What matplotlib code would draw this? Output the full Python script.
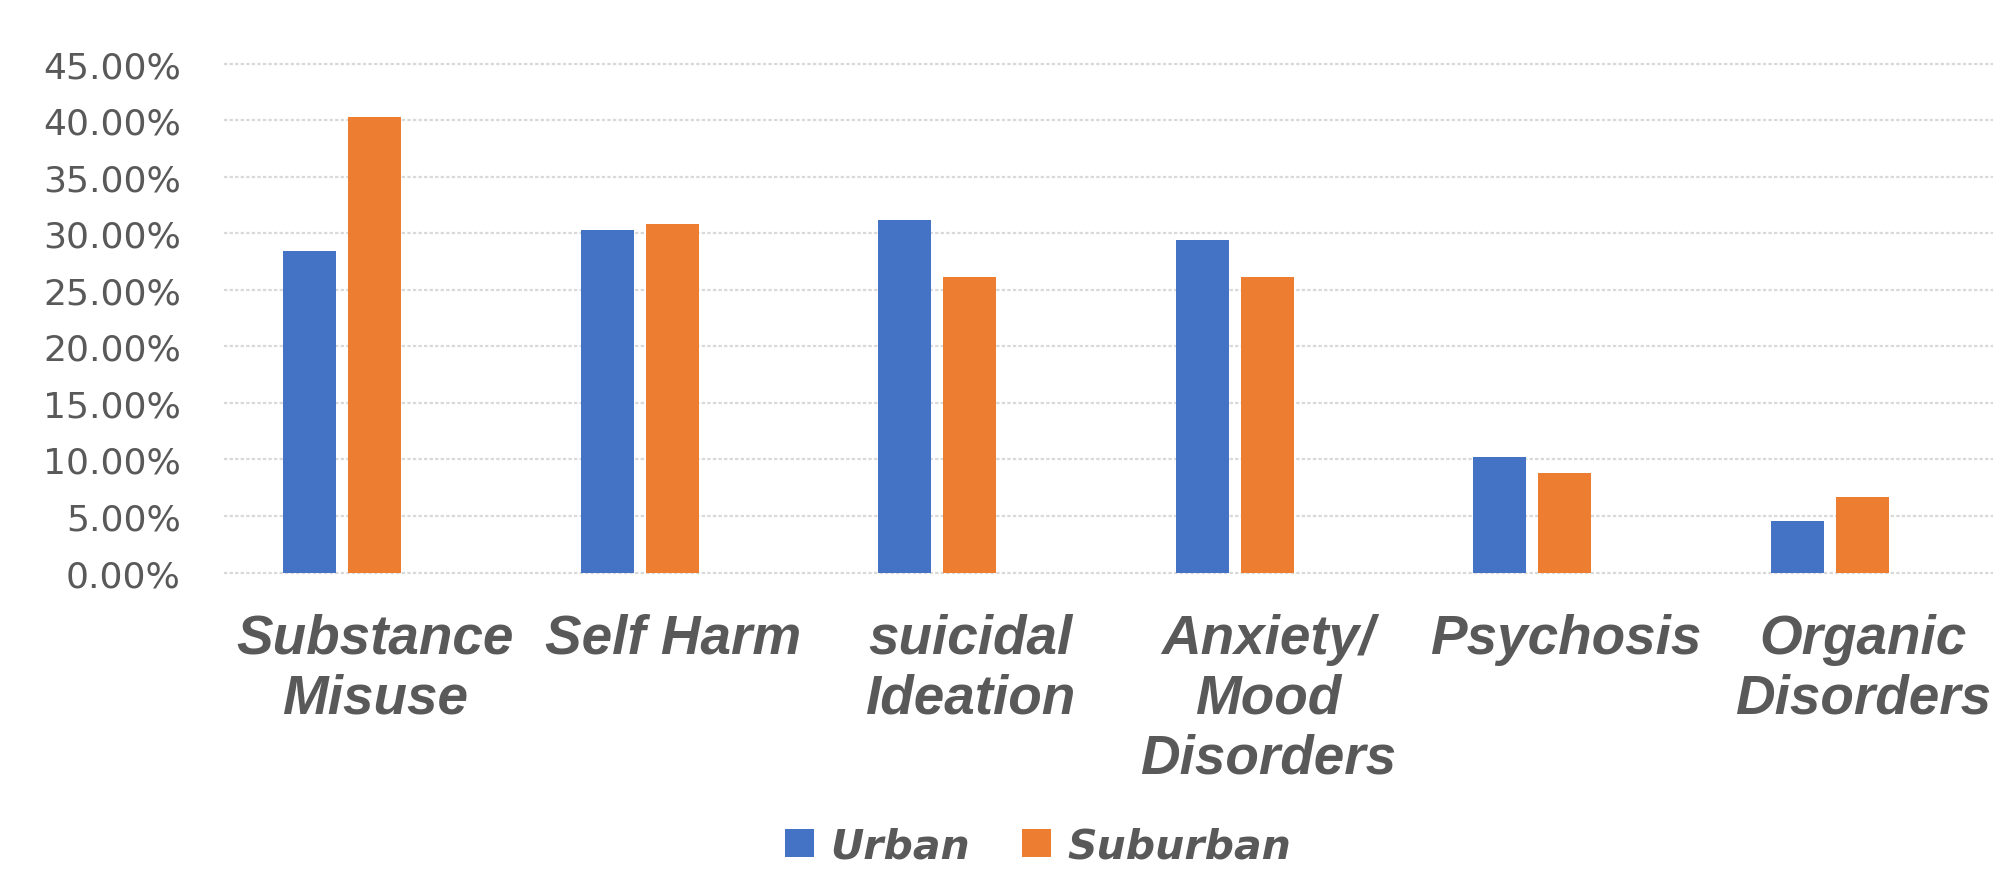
import matplotlib
matplotlib.use("Agg")
import matplotlib.pyplot as plt
import numpy as np
from matplotlib.ticker import FuncFormatter, MultipleLocator
from matplotlib.transforms import ScaledTranslation

categories = ["Substance\nMisuse", "Self Harm", "suicidal\nIdeation",
              "Anxiety/\nMood\nDisorders", "Psychosis", "Organic\nDisorders"]
urban = [0.284, 0.303, 0.312, 0.294, 0.102, 0.046]
suburban = [0.403, 0.308, 0.261, 0.261, 0.088, 0.067]
series_names = ["Urban", "Suburban"]
colors = ["#4472C4", "#ED7D31"]
text_color = "#595959"

fig = plt.figure(figsize=(19.93, 8.70), dpi=100)
ax = fig.add_axes([224 / 1993, 0.3407, 1 - 224 / 1993, 0.9257 - 0.3407])

x = np.arange(len(categories))
w = 0.178
off = 0.109
ax.bar(x - off, urban, width=w, color=colors[0], label=series_names[0], zorder=3)
ax.bar(x + off, suburban, width=w, color=colors[1], label=series_names[1], zorder=3)

ax.set_xlim(-0.397, 5.548)
ax.set_ylim(0, 0.45)
ax.yaxis.set_major_locator(MultipleLocator(0.05))
ax.yaxis.set_major_formatter(FuncFormatter(lambda v, p: f"{v*100:.2f}%"))

for s in ax.spines.values():
    s.set_visible(False)

ax.set_axisbelow(True)
ax.grid(axis="y", color="#d9d9d9", linestyle=(0, (1.5, 1)), linewidth=1.6)
for gl in ax.get_ygridlines():
    gl.set_clip_on(False)

ax.tick_params(axis="y", length=0, pad=31, labelsize=26, labelcolor=text_color)
for t in ax.get_yticklabels():
    t.set_fontfamily("DejaVu Sans")

ax.set_xticks(x)
ax.set_xticklabels(categories, fontfamily="Liberation Sans", fontweight="bold",
                   fontstyle="italic", fontsize=39.5, color=text_color,
                   linespacing=1.2)
ax.tick_params(axis="x", length=0, pad=29)
shift = ScaledTranslation(0.33, 0, fig.dpi_scale_trans)
for t in ax.get_xticklabels():
    t.set_transform(t.get_transform() + shift)

leg = fig.legend(loc="center", bbox_to_anchor=(0.521, 0.026), ncol=2,
                 frameon=False, handlelength=0.7, handleheight=0.7,
                 handletextpad=0.41, columnspacing=1.27,
                 prop={"family": "DejaVu Sans", "weight": "bold",
                       "style": "oblique", "size": 29.5})
for t in leg.get_texts():
    t.set_color(text_color)

fig.savefig("out.png", dpi=100, facecolor="white")
